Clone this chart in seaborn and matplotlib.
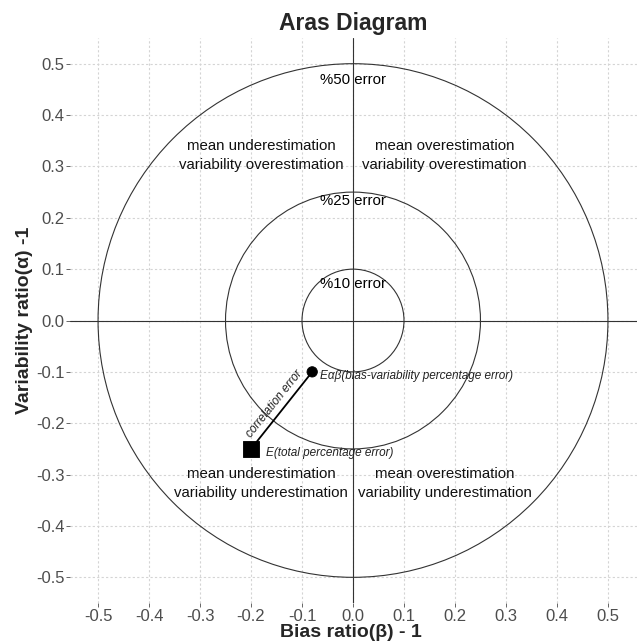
import numpy as np
import pandas as pd
import matplotlib
matplotlib.use("Agg")
import matplotlib.pyplot as plt
import seaborn as sns
from matplotlib.patches import Circle

# ---- data ----
ticks = [-0.5, -0.4, -0.3, -0.2, -0.1, 0.0, 0.1, 0.2, 0.3, 0.4, 0.5]
tick_labels = ["-0.5", "-0.4", "-0.3", "-0.2", "-0.1", "0.0", "0.1", "0.2", "0.3", "0.4", "0.5"]
radii = [0.1, 0.25, 0.5]
radius_labels = ["%10 error", "%25 error", "%50 error"]
radius_label_y = [0.072, 0.232, 0.468]
point_names = ["Eab", "E"]
point_x = [-0.08, -0.2]
point_y = [-0.1, -0.25]
point_labels = ["E\u03b1\u03b2(bias-variability percentage error)", "E(total percentage error)"]
quad_x = [-0.18, 0.18, -0.18, 0.18]
quad_y = [0.321, 0.321, -0.318, -0.318]
quad_labels = ["mean underestimation\nvariability overestimation",
               "mean overestimation\nvariability overestimation",
               "mean underestimation\nvariability underestimation",
               "mean overestimation\nvariability underestimation"]

sns.set_theme(style="white")
plt.rcParams['font.family'] = ['Liberation Sans', 'DejaVu Sans']

fig = plt.figure(figsize=(6.37, 6.43), dpi=100)
ax = fig.add_axes([0.1099, 0.0622, 0.8901, 0.8787])

ax.set_xlim(-0.555, 0.557)
ax.set_ylim(-0.55, 0.55)

# grid
for t in ticks:
    ax.axvline(t, color="#d4d4d4", lw=0.8, ls=(0, (2, 2)), zorder=0)
    ax.axhline(t, color="#d4d4d4", lw=0.8, ls=(0, (2, 2)), zorder=0)

# axis cross
ax.axhline(0, color="#333333", lw=0.8, zorder=1)
ax.axvline(0, color="#333333", lw=0.8, zorder=1)

# circles
for r in radii:
    ax.add_patch(Circle((0, 0), r, fill=False, ec="#333333", lw=0.8, zorder=1))
for lab, yy in zip(radius_labels, radius_label_y):
    ax.text(0, yy, lab, ha="center", va="center", fontsize=10.8, color="black")

# points and line
df = pd.DataFrame({"x": point_x, "y": point_y, "name": point_names})
sns.lineplot(data=df, x="x", y="y", sort=False, color="black", lw=1.3, ax=ax, zorder=3)
sns.scatterplot(data=df, x="x", y="y", style="name", markers={"Eab": "o", "E": "s"},
                size="name", sizes={"Eab": 55, "E": 130}, color="black",
                edgecolor="black", legend=False, ax=ax, zorder=4)

ax.text(point_x[0] + 0.015, point_y[0] - 0.009, point_labels[0], ha="left", va="center",
        fontsize=8.5, style="italic", color="#222222")
ax.text(point_x[1] + 0.03, point_y[1] - 0.007, point_labels[1], ha="left", va="center",
        fontsize=8.5, style="italic", color="#222222")

# correlation error label along line
mx, my = (point_x[0] + point_x[1]) / 2, (point_y[0] + point_y[1]) / 2
ang = np.degrees(np.arctan2(point_y[0] - point_y[1], point_x[0] - point_x[1]))
ax.text(mx - 0.015, my + 0.012, "correlation error", rotation=ang, rotation_mode="anchor",
        ha="center", va="center", fontsize=8.5, style="italic", color="#222222")

for xx, yy, lab in zip(quad_x, quad_y, quad_labels):
    ax.text(xx, yy, lab, ha="center", va="center", fontsize=10.8, linespacing=1.45, color="#111111")

ax.set_xticks(ticks)
ax.set_xticklabels(tick_labels)
ax.set_yticks(ticks)
ax.set_yticklabels(tick_labels)
ax.tick_params(axis="both", which="major", labelsize=12, labelcolor="#4d4d4d",
               color="#4d4d4d", length=3, width=0.6, pad=1, bottom=True, left=True)
for s in ax.spines.values():
    s.set_visible(False)

ax.set_xlabel("Bias ratio(\u03b2) - 1", fontsize=14, fontweight="bold")
ax.set_ylabel("Variability ratio(\u03b1) -1", fontsize=14, fontweight="bold")
ax.xaxis.set_label_coords(0.496, -0.037)
ax.yaxis.set_label_coords(-0.066, 0.5)
ax.set_title("Aras Diagram", fontsize=16.5, fontweight="bold", pad=6)

fig.savefig("out.png", dpi=100)
